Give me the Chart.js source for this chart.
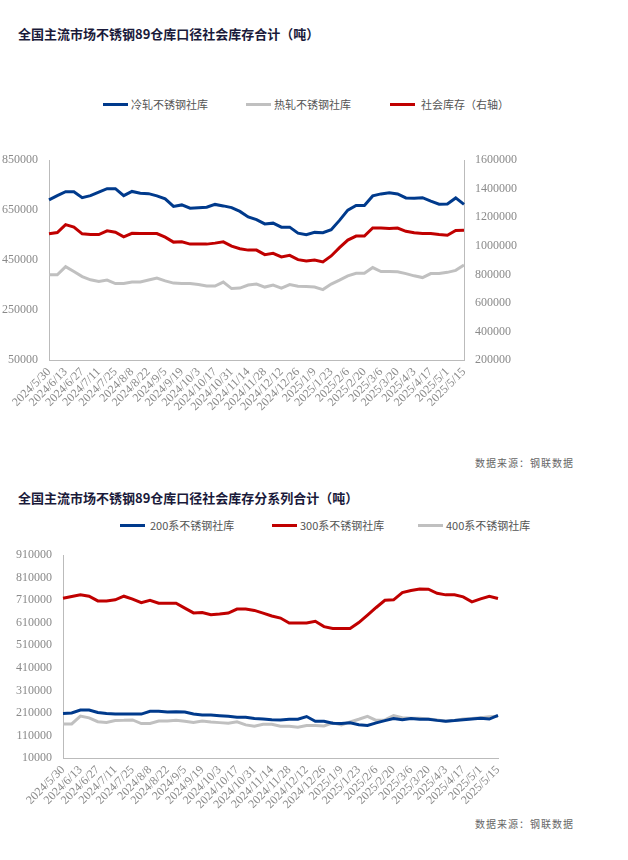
<!DOCTYPE html>
<html><head><meta charset="utf-8">
<script src="https://cdn.jsdelivr.net/npm/chart.js@4"></script>
<style>
body{margin:0;width:628px;height:860px;background:#fff;position:relative;font-family:"Liberation Serif","Noto Sans CJK SC",serif;}
.t{position:absolute;left:18px;font:bold 13px "Noto Sans CJK SC";color:#1a1a3a;}
.lg{position:absolute;font:11px "Noto Sans CJK SC";color:#555;}
.lg span.l{position:absolute;width:25px;height:3px;top:7px;}
.src{position:absolute;left:475px;font:10px "Noto Sans CJK SC";color:#666;letter-spacing:1px}
.wrap{position:absolute;left:0;width:628px;height:300px}
</style></head><body>
<div class="t" style="top:24px">全国主流市场不锈钢89仓库口径社会库存合计（吨）</div>
<div class="t" style="top:488px">全国主流市场不锈钢89仓库口径社会库存分系列合计（吨）</div>
<div id="lg1"></div><div id="lg2"></div>
<div class="src" style="top:455px">数据来源：钢联数据</div>
<div class="src" style="top:816px">数据来源：钢联数据</div>
<div class="wrap" style="top:150px"><canvas id="c1" width="628" height="300"></canvas></div>
<div class="wrap" style="top:545px"><canvas id="c2" width="628" height="300"></canvas></div>
<script>
const labels=["2024/5/30","2024/6/6","2024/6/13","2024/6/20","2024/6/27","2024/7/4","2024/7/11","2024/7/18","2024/7/25","2024/8/1","2024/8/8","2024/8/15","2024/8/22","2024/8/29","2024/9/5","2024/9/12","2024/9/19","2024/9/26","2024/10/3","2024/10/10","2024/10/17","2024/10/24","2024/10/31","2024/11/7","2024/11/14","2024/11/21","2024/11/28","2024/12/5","2024/12/12","2024/12/19","2024/12/26","2025/1/2","2025/1/9","2025/1/16","2025/1/23","2025/1/30","2025/2/6","2025/2/13","2025/2/20","2025/2/27","2025/3/6","2025/3/13","2025/3/20","2025/3/27","2025/4/3","2025/4/10","2025/4/17","2025/4/24","2025/5/1","2025/5/8","2025/5/15"];
const coldRolled=[691000,708000,724000,724000,700000,708000,722000,736000,736000,708000,725000,718000,716000,707000,695000,665000,671000,658000,660000,662000,673000,667000,660000,645000,623000,612000,595000,598000,582000,582000,558000,552000,561000,560000,572000,609000,650000,669000,669000,707000,715000,720000,715000,699000,698000,700000,686000,674000,675000,699000,673000];
const hotRolled=[391000,391000,424000,404000,384000,371000,364000,370000,356000,356000,362000,362000,370000,378000,367000,358000,356000,356000,352000,346000,346000,362000,336000,338000,350000,354000,342000,350000,338000,352000,345000,344000,342000,332000,354000,370000,387000,397000,397000,420000,404000,404000,403000,396000,387000,380000,396000,396000,401000,409000,430000];
const socialTotal=[1084000,1093000,1149000,1132000,1084000,1079000,1079000,1105000,1095000,1063000,1088000,1086000,1086000,1086000,1061000,1026000,1028000,1012000,1012000,1012000,1019000,1028000,998000,980000,970000,970000,938000,947000,922000,933000,903000,894000,901000,887000,929000,987000,1040000,1068000,1068000,1125000,1125000,1121000,1125000,1102000,1091000,1086000,1086000,1079000,1074000,1107000,1109000];
const s300=[719000,727000,734000,728000,707000,707000,712000,728000,715000,699000,710000,697000,697000,697000,675000,654000,656000,646000,649000,653000,671000,671000,665000,653000,640000,631000,609000,609000,609000,617000,593000,585000,585000,585000,611000,644000,678000,710000,712000,744000,753000,760000,759000,741000,734000,734000,725000,703000,716000,728000,718000];
const s200=[208000,210000,223000,223000,212000,207000,205000,205000,205000,205000,217000,217000,214000,215000,214000,205000,201000,201000,198000,195000,191000,191000,185000,183000,180000,179000,182000,182000,194000,173000,173000,164000,163000,166000,158000,154000,166000,176000,185000,180000,185000,182000,182000,177000,173000,176000,180000,183000,186000,183000,199000];
const s400=[161000,161000,196000,188000,171000,168000,176000,177000,179000,163000,163000,174000,174000,177000,173000,168000,174000,170000,167000,164000,171000,157000,151000,160000,160000,151000,151000,147000,154000,154000,152000,166000,157000,170000,182000,195000,177000,179000,198000,189000,186000,186000,183000,179000,173000,177000,183000,185000,189000,193000,195000];
const names1=["冷轧不锈钢社库","热轧不锈钢社库","社会库存（右轴）"];
const names2=["200系不锈钢社库","300系不锈钢社库","400系不锈钢社库"];
const BLUE="#003a8c",GRAY="#c0c0c0",RED="#c00000";
function legend(id,top,items){let h='';items.forEach(it=>{h+=`<div class="lg" style="top:${top}px;left:${it.x}px"><span class="l" style="left:0;background:${it.c}"></span><span style="margin-left:${it.g}px">${it.n}</span></div>`;});document.getElementById(id).innerHTML=h;}
legend('lg1',96,[{x:103,c:BLUE,n:names1[0],g:28},{x:246,c:GRAY,n:names1[1],g:28},{x:390,c:RED,n:names1[2],g:31}]);
legend('lg2',517,[{x:120,c:BLUE,n:names2[0],g:30},{x:272,c:RED,n:names2[1],g:28},{x:418,c:GRAY,n:names2[2],g:28}]);
const tickFont={family:"Liberation Serif",size:12};
const num=v=>String(v);
const xTicks={color:"#8a8a8a",font:tickFont,maxRotation:45,minRotation:45,autoSkip:false,padding:0,callback:(v,i)=>i%2===0?labels[i]:''};
function ds(d,c,ax){return {data:d,borderColor:c,backgroundColor:c,borderWidth:3,pointRadius:0,tension:0,yAxisID:ax||'y'};}
Chart.defaults.animation=false;
new Chart(document.getElementById('c1'),{type:'line',data:{labels,datasets:[ds(coldRolled,BLUE),ds(hotRolled,GRAY),ds(socialTotal,RED,'y2')]},
options:{responsive:false,layout:{padding:{top:8}},plugins:{legend:{display:false},tooltip:{enabled:false}},
scales:{x:{grid:{display:false,drawTicks:true,tickLength:5},border:{color:'#bbb'},ticks:xTicks,afterFit:s=>{s.height=90}},
y:{min:50000,max:850000,ticks:{stepSize:200000,color:'#8a8a8a',font:tickFont,callback:num},grid:{display:false},border:{color:'#bbb'},afterFit:s=>{s.width=49}},
y2:{position:'right',min:200000,max:1600000,ticks:{stepSize:200000,color:'#8a8a8a',font:tickFont,callback:num},grid:{display:false},border:{color:'#bbb'},afterFit:s=>{s.width=164}}}}});
new Chart(document.getElementById('c2'),{type:'line',data:{labels,datasets:[ds(s200,BLUE),ds(s300,RED),ds(s400,GRAY)]},
options:{responsive:false,layout:{padding:{top:9,right:130}},plugins:{legend:{display:false},tooltip:{enabled:false}},
scales:{x:{grid:{display:false,tickLength:5},border:{color:'#bbb'},ticks:xTicks,afterFit:s=>{s.height=87}},
y:{min:10000,max:910000,ticks:{stepSize:100000,color:'#8a8a8a',font:tickFont,callback:num},grid:{display:false},border:{color:'#bbb'},afterFit:s=>{s.width=63}}}}});
</script></body></html>
